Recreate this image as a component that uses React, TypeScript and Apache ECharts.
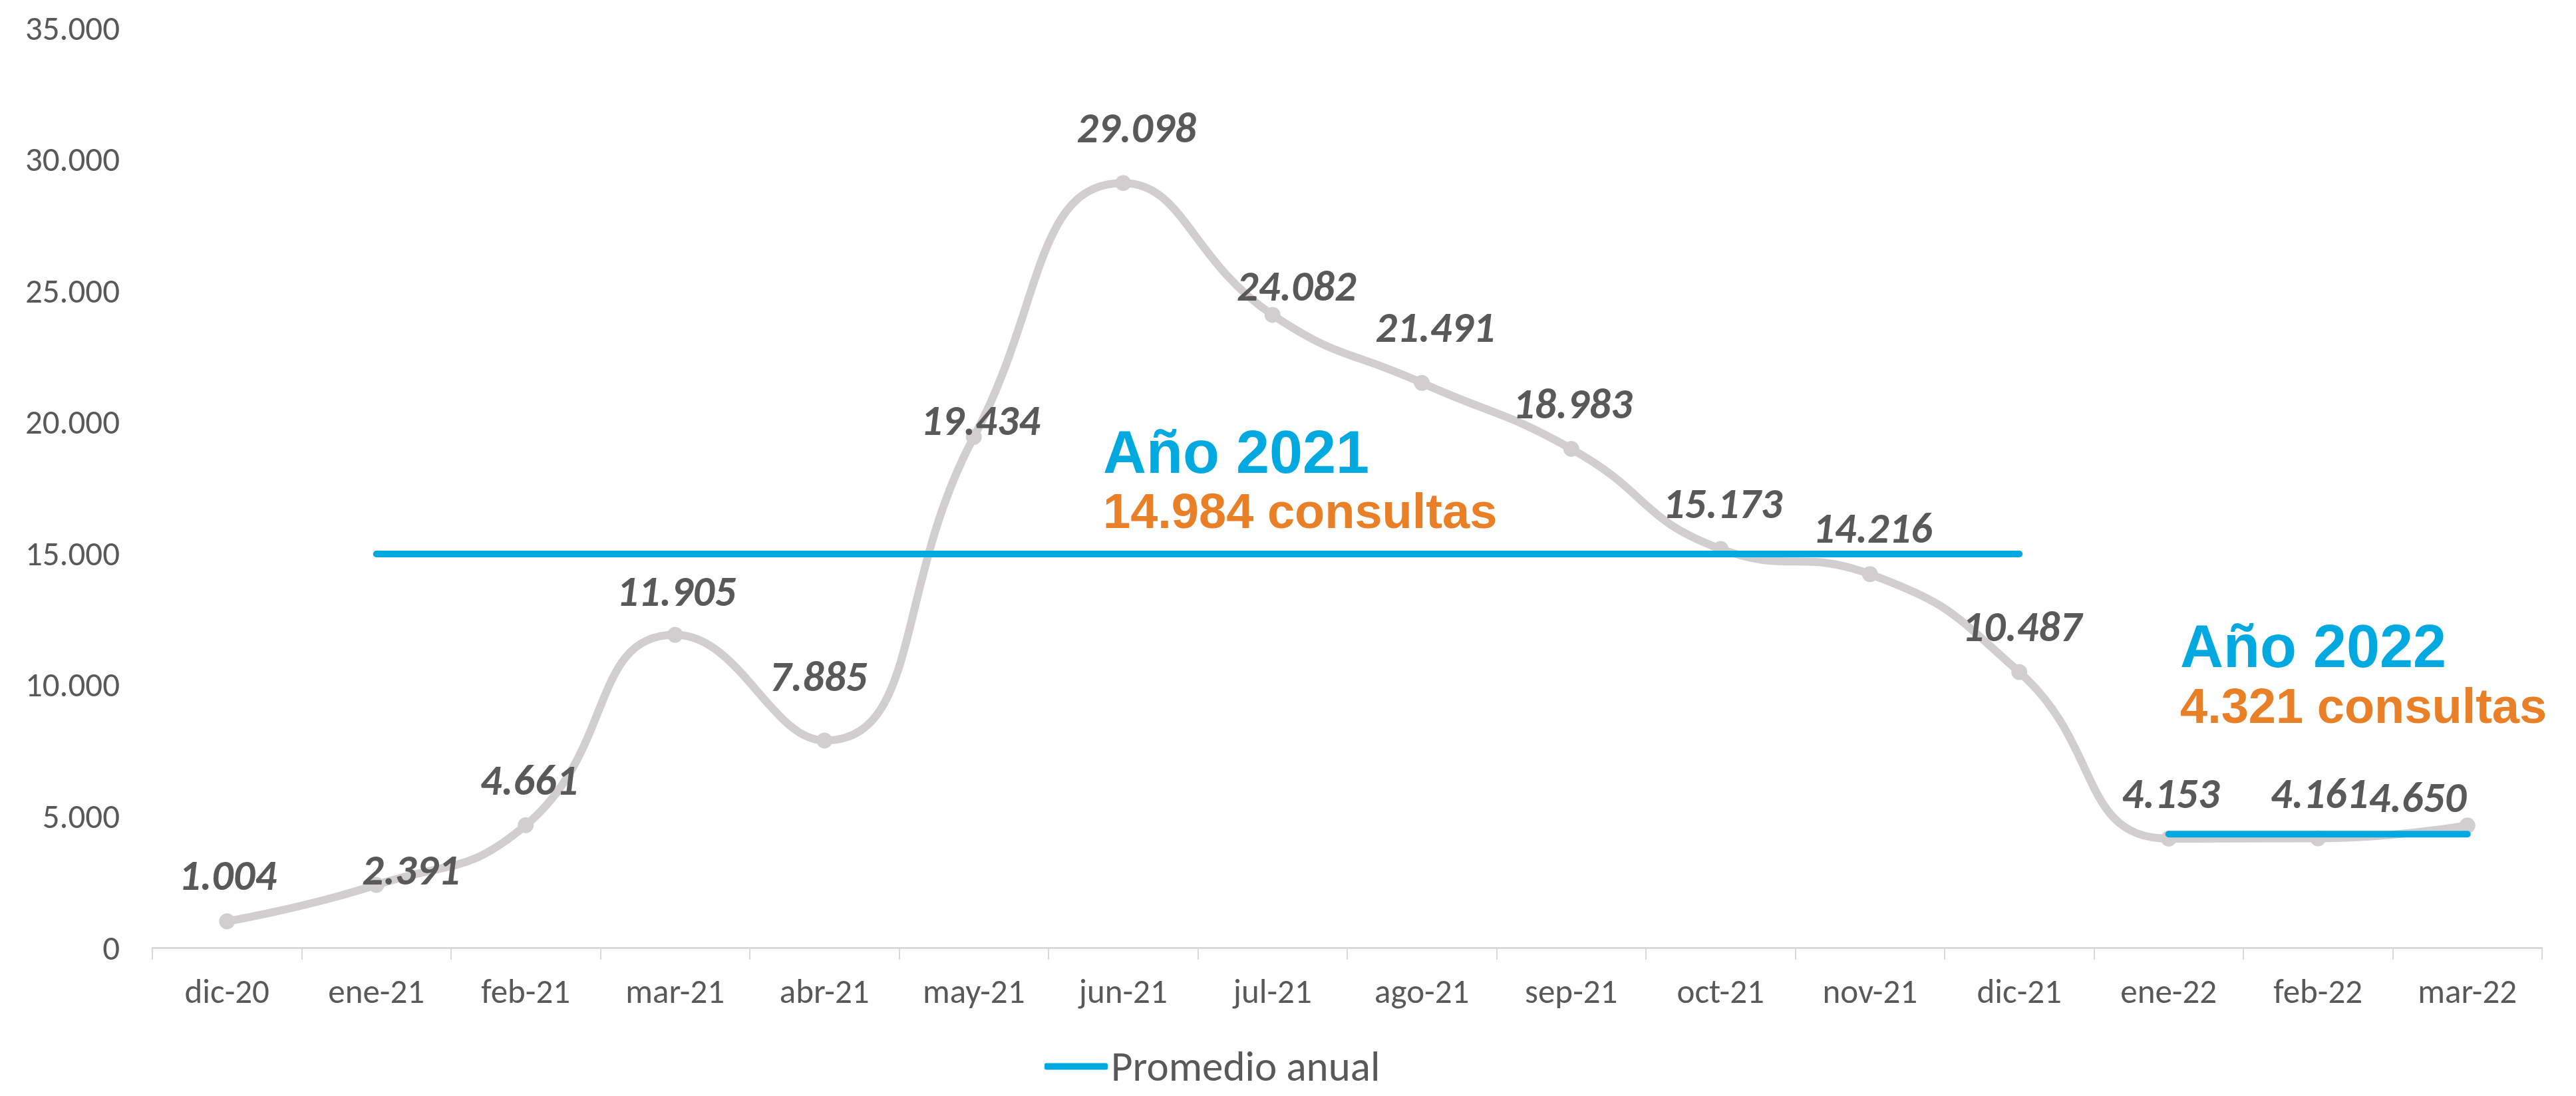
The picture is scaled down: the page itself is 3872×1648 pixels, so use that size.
import React, { useEffect, useRef } from "react";
import * as echarts from "echarts";

const categories = ["dic-20", "ene-21", "feb-21", "mar-21", "abr-21", "may-21", "jun-21", "jul-21", "ago-21", "sep-21", "oct-21", "nov-21", "dic-21", "ene-22", "feb-22", "mar-22"];
const consultas = [1004, 2391, 4661, 11905, 7885, 19434, 29098, 24082, 21491, 18983, 15173, 14216, 10487, 4153, 4161, 4650];
const promedio2021 = [null, 14984, 14984, 14984, 14984, 14984, 14984, 14984, 14984, 14984, 14984, 14984, 14984, null, null, null];
const promedio2022 = [null, null, null, null, null, null, null, null, null, null, null, null, null, 4321, 4321, 4321];
const yMax = 35000;
const yInterval = 5000;

// label placement (layout only)
const labelOffsets = [
  [1, -69], [52, -23], [5, -68], [2, -66], [-9, -96], [10, -25], [20, -83], [36, -43],
  [20, -84], [2, -68], [3, -68], [4, -69], [4, -69], [3, -68], [2, -68], [-75, -42],
];

const fmt = (v: number) => String(v).replace(/\B(?=(\d{3})+(?!\d))/g, ".");

const FONT = "'Carlito', 'Liberation Sans', Arial, sans-serif";
const HEAD_FONT = "'Liberation Sans', Arial, sans-serif";
const BLUE = "#00AAE1";
const ORANGE = "#E97F26";
const GREY_TXT = "#595959";

export default function App() {
  const ref = useRef<HTMLDivElement>(null);
  useEffect(() => {
    if (!ref.current) return;
    const chart = echarts.init(ref.current, undefined, { renderer: "svg" });
    chart.setOption({
      animation: false,
      backgroundColor: "#ffffff",
      grid: { left: 229, right: 51, top: 42, bottom: 223, containLabel: false },
      legend: {
        data: ["Promedio anual"],
        left: 1570,
        top: 1572,
        padding: 0,
        icon: "roundRect",
        itemWidth: 95,
        itemHeight: 10,
        textStyle: { fontFamily: FONT, fontSize: 63, lineHeight: 60, color: GREY_TXT },
      },
      xAxis: {
        type: "category",
        data: categories,
        boundaryGap: true,
        axisLine: { lineStyle: { color: "#D9D9D9", width: 3 } },
        axisTick: { show: true, length: 18, lineStyle: { color: "#D9D9D9", width: 2 } },
        axisLabel: { fontFamily: FONT, fontSize: 51, color: GREY_TXT, margin: 40, interval: 0 },
      },
      yAxis: {
        type: "value",
        min: 0,
        max: yMax,
        interval: yInterval,
        splitLine: { show: false },
        axisLine: { show: false },
        axisTick: { show: false },
        axisLabel: { fontFamily: FONT, fontSize: 51, color: GREY_TXT, margin: 49, formatter: (v: number) => fmt(v) },
      },
      series: [
        {
          name: "Consultas",
          type: "line",
          data: consultas.map((v, i) => ({
            value: v,
            label: { offset: labelOffsets[i] },
          })),
          smooth: 0.5,
          symbol: "circle",
          symbolSize: 24,
          itemStyle: { color: "#D0CECE" },
          lineStyle: { color: "#D0CECE", width: 12 },
          label: {
            show: true,
            position: "inside",
            fontFamily: FONT,
            fontSize: 64,
            fontWeight: "bold",
            fontStyle: "italic",
            color: GREY_TXT,
            formatter: (p: any) => fmt(p.value),
          },
          z: 2,
        },
        {
          name: "Promedio anual",
          type: "line",
          data: promedio2021,
          showSymbol: false,
          symbol: "none",
          itemStyle: { color: BLUE },
          lineStyle: { color: BLUE, width: 10, cap: "round" },
          z: 3,
        },
        {
          name: "Promedio anual",
          type: "line",
          data: promedio2022,
          showSymbol: false,
          symbol: "none",
          itemStyle: { color: BLUE },
          lineStyle: { color: BLUE, width: 10, cap: "round" },
          z: 3,
        },
      ],
      graphic: [
        { type: "text", left: 1658, top: 673 - 38, style: { text: "Año 2021", fill: BLUE, font: `bold 90px ${HEAD_FONT}`, lineHeight: 76 } },
        { type: "text", left: 1658, top: 762 - 31, style: { text: "14.984 consultas", fill: ORANGE, font: `bold 74px ${HEAD_FONT}`, lineHeight: 62 } },
        { type: "text", left: 3277, top: 965 - 38, style: { text: "Año 2022", fill: BLUE, font: `bold 90px ${HEAD_FONT}`, lineHeight: 76 } },
        { type: "text", left: 3277, top: 1055 - 31, style: { text: "4.321 consultas", fill: ORANGE, font: `bold 74px ${HEAD_FONT}`, lineHeight: 62 } },
      ],
    });
    return () => chart.dispose();
  }, []);
  return <div ref={ref} style={{ position: "fixed", left: 0, top: 0, width: 3872, height: 1648 }} />;
}
